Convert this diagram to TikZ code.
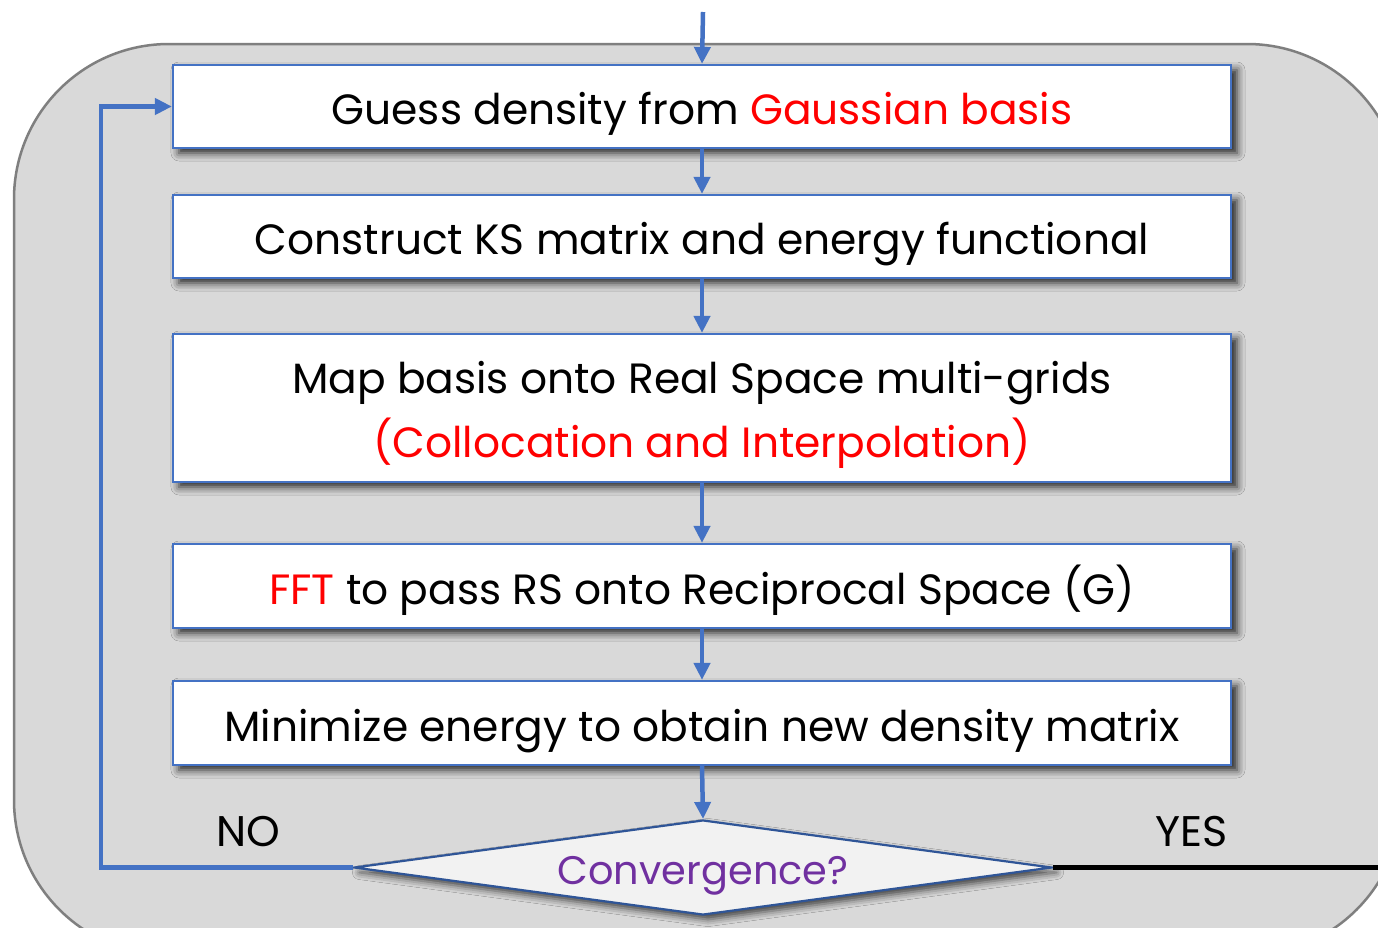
\documentclass[tikz,border=0pt]{standalone}
\usepackage{fontspec}
\setmainfont{Poppins}
\usetikzlibrary{arrows.meta,shapes.geometric,shadows.blur}
\definecolor{arrblue}{HTML}{4472C4}
\definecolor{dblue}{HTML}{2F5597}
\definecolor{bggray}{HTML}{D9D9D9}
\definecolor{edgegray}{HTML}{7F7F7F}
\definecolor{dfill}{HTML}{F2F2F2}
\definecolor{myred}{HTML}{FF0000}
\definecolor{mypurple}{HTML}{7030A0}
\newcommand{\shiftline}[2]{\makebox[0pt]{\raisebox{#1}[0pt][0pt]{#2}}}
\tikzset{
  stepbox/.style={draw=arrblue, line width=2.2bp, fill=white, minimum width=1058bp, inner sep=0pt,
    font=\fontsize{42.5}{62}\selectfont,
    blur shadow={shadow xshift=6bp, shadow yshift=-5bp, shadow blur radius=8bp, shadow opacity=85}},
  arr/.style={draw=arrblue, line width=4.5bp, -{Triangle[length=17bp,width=16bp]}},
  lbl/.style={font=\fontsize{43}{46}\selectfont, text=black, anchor=base, inner sep=0pt},
}
\begin{document}
\begin{tikzpicture}[x=1bp,y=-1bp]
\useasboundingbox (0,0) rectangle (1378,927);
\fill[white] (0,0) rectangle (1378,927);
\draw[edgegray, fill=bggray, line width=2.5bp, rounded corners=155bp] (14,44) rectangle (1402,955);
\node[stepbox, minimum height=83bp] (b1) at (702,106.5) {\shiftline{-18bp}{Guess density from \textcolor{myred}{Gaussian basis}}};
\node[stepbox, minimum height=83bp] (b2) at (702,236.5) {\shiftline{-18bp}{Construct KS matrix and energy functional}};
\node[stepbox, minimum height=148bp] (b3) at (702,408) {\shiftline{15bp}{Map basis onto Real Space multi-grids}\shiftline{-49bp}{\textcolor{myred}{(Collocation and Interpolation)}}};
\node[stepbox, minimum height=84bp] (b4) at (702,586) {\shiftline{-18bp}{\textcolor{myred}{FFT} to pass RS onto Reciprocal Space (G)}};
\node[stepbox, minimum height=84bp] (b5) at (702,723) {\shiftline{-18bp}{Minimize energy to obtain new density matrix}};
\node[diamond, draw=dblue, line width=2.2bp, fill=dfill, aspect=7.35, minimum width=698bp, minimum height=95bp, inner sep=0pt,
  font=\fontsize{40}{44}\selectfont, text=mypurple,
  blur shadow={shadow xshift=5bp, shadow yshift=-5bp, shadow blur radius=7bp, shadow opacity=70}] (conv) at (703,867.5) {\shiftline{-16.5bp}{Convergence?}};
\coordinate (start) at (703,12);
\coordinate (loopx) at (101,0);
\coordinate (yesend) at (1378,867.5);
\draw[arr] (start) -- (b1.north);
\draw[arr] (b1.south) -- (b2.north);
\draw[arr] (b2.south) -- (b3.north);
\draw[arr] (b3.south) -- (b4.north);
\draw[arr] (b4.south) -- (b5.north);
\draw[arr] (b5.south) -- (conv.north);
\draw[arr] (conv.west) -- (conv.west -| loopx) |- (b1.west);
\draw[black, line width=4.5bp] (conv.east) -- (yesend);
\node[lbl] (no) at (248,846) {NO};
\node[lbl] (yes) at (1192,846) {YES};
\end{tikzpicture}
\end{document}
